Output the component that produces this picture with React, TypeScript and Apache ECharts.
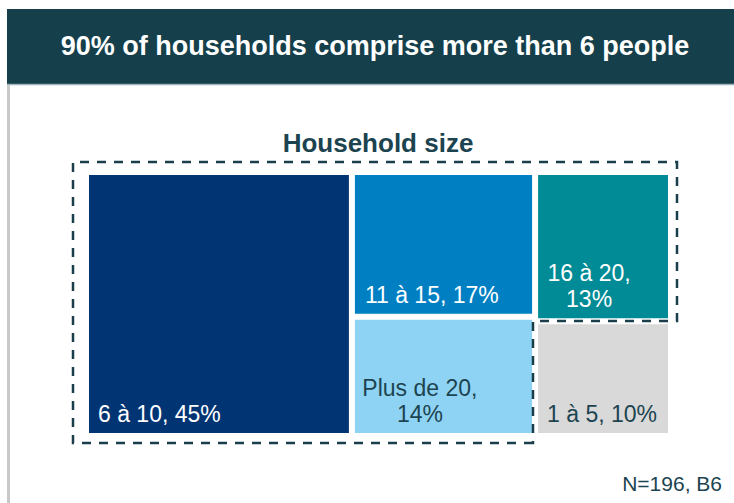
import React, { useEffect, useRef } from "react";
import * as echarts from "echarts";

// ---- data ----
const categories = ["6 à 10", "11 à 15", "Plus de 20", "16 à 20", "1 à 5"];
const shares = [45, 17, 14, 13, 10];
const chartTitle = "90% of households comprise more than 6 people";
const chartSubtitle = "Household size";
const footnote = "N=196, B6";

// ---- styles ----
const DARK = "#1c4450";
const FONT = "'Liberation Sans', Arial, sans-serif";
const cellColors: Record<string, string> = {
  "6 à 10": "#003473",
  "11 à 15": "#0080c3",
  "Plus de 20": "#8fd3f4",
  "16 à 20": "#008b96",
  "1 à 5": "#d9d9d9",
};
const labelLayout: Record<string, { x: number; align: "left" | "center"; wrap: boolean; dark: boolean }> = {
  "6 à 10": { x: 9, align: "left", wrap: false, dark: false },
  "11 à 15": { x: 10, align: "left", wrap: false, dark: false },
  "Plus de 20": { x: 65, align: "center", wrap: true, dark: true },
  "16 à 20": { x: 51, align: "center", wrap: true, dark: false },
  "1 à 5": { x: 9, align: "left", wrap: false, dark: true },
};

export default function App() {
  const ref = useRef<HTMLDivElement>(null);
  useEffect(() => {
    document.body.style.margin = "0";
    const chart = echarts.init(ref.current!, null, { renderer: "svg" });
    const data = categories.map((name, i) => {
      const l = labelLayout[name];
      return {
        name,
        value: shares[i],
        itemStyle: { color: cellColors[name] },
        label: {
          position: [l.x, "100%"],
          align: l.align,
          verticalAlign: "bottom",
          offset: [0, -6],
          color: l.dark ? DARK : "#ffffff",
        },
      };
    });
    chart.setOption({
      animation: false,
      backgroundColor: "#ffffff",
      graphic: [
        { type: "rect", shape: { x: 7, y: 9, width: 727, height: 75 }, style: { fill: "#143f4b" } },
        { type: "line", shape: { x1: 7, y1: 84.5, x2: 734, y2: 84.5 }, style: { stroke: "#9db4ba", lineWidth: 1.5 } },
        { type: "rect", shape: { x: 7, y: 85, width: 3, height: 418 }, style: { fill: "#c8c8c8" } },
        {
          type: "text",
          x: 375,
          y: 46,
          style: {
            text: chartTitle,
            fill: "#ffffff",
            font: `bold 27px ${FONT}`,
            align: "center",
            verticalAlign: "middle",
          },
        },
        {
          type: "text",
          x: 378,
          y: 142.5,
          style: {
            text: chartSubtitle,
            fill: "#1c4350",
            font: `bold 26px ${FONT}`,
            align: "center",
            verticalAlign: "middle",
          },
        },
        {
          type: "polygon",
          shape: {
            points: [
              [533, 443],
              [73, 443],
              [73, 162],
              [677, 162],
              [677, 321],
              [533, 321],
            ],
          },
          style: { fill: "none", stroke: "#1a3f4b", lineWidth: 2.5, lineDash: [9, 8] },
          z: 10,
        },
        {
          type: "text",
          x: 722,
          y: 483,
          style: {
            text: footnote,
            fill: DARK,
            font: `21px ${FONT}`,
            align: "right",
            verticalAlign: "middle",
          },
        },
      ],
      series: [
        {
          type: "treemap",
          left: 88,
          top: 174,
          width: 581,
          height: 260,
          roam: false,
          nodeClick: false,
          sort: "desc",
          breadcrumb: { show: false },
          emphasis: { disabled: true },
          itemStyle: { borderWidth: 1, borderColor: "rgba(255,255,255,0.35)", gapWidth: 0 },
          levels: [{ itemStyle: { borderWidth: 0, gapWidth: 4, borderColor: "#ffffff" } }],
          label: {
            show: true,
            padding: 0,
            fontFamily: FONT,
            fontSize: 23,
            lineHeight: 26,
            formatter: (p: any) => {
              const l = labelLayout[p.name];
              return `${p.name},${l && l.wrap ? "\n" : " "}${p.value}%`;
            },
          },
          data,
        },
      ],
    });
    return () => chart.dispose();
  }, []);
  return <div ref={ref} style={{ width: 734, height: 503 }} />;
}
